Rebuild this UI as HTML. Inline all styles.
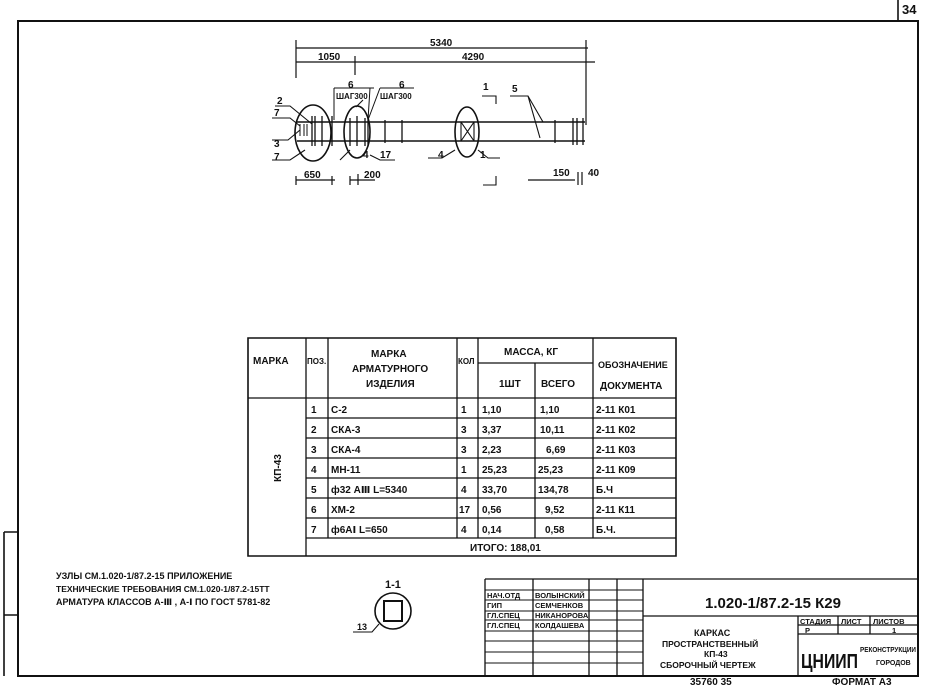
<!DOCTYPE html>
<html><head><meta charset="utf-8"><style>
body{margin:0;background:#fff}
svg{display:block}
text{font-family:"Liberation Sans","DejaVu Sans",sans-serif;font-weight:bold;fill:#111}
</style></head><body>
<svg width="927" height="685" viewBox="0 0 927 685" xmlns="http://www.w3.org/2000/svg">
<g stroke="#111" fill="none" stroke-width="1.6">
<path d="M18 21 H918 V676 H18 Z" stroke-width="2"/>
<path d="M898 0 V21"/>
<path d="M4 532 V676 M4 532 H18 M4 615 H18"/>
<path d="M296 48 H588 M296 62 H595 M296 40 V78 M586 40 V125 M355 56 V75" stroke-width="1.2"/>
<path d="M296 176 V185 M296 180 H335 M332 176 V185 M350 176 V185 M350 180 H375 M358 174 V185 M528 180 H575 M578 172 V185 M582 172 V185" stroke-width="1.2"/>
<path d="M297 122 H585 M297 141 H585"/>
<path d="M312 116 V146 M315 116 V146 M322 116 V146 M332 116 V146 M350 118 V146 M357 116 V146 M365 118 V146 M368 118 V146 M385 120 V143 M402 120 V143 M555 120 V143 M573 118 V145 M577 118 V145 M583 118 V145" stroke-width="1.3"/>
<path d="M300 124 V136 M304 124 V136 M307 124 V136" stroke-width="1"/>
<ellipse cx="313" cy="133" rx="18" ry="28"/>
<ellipse cx="357" cy="132" rx="13" ry="26"/>
<ellipse cx="467" cy="132" rx="12" ry="25"/>
<path d="M461 122 L474 141 M474 122 L461 141 M461 122 H474 V141 H461 Z" stroke-width="1.1"/>
<path d="M275 106 H290 L312 124 M272 118 H290 L300 126 M272 140 H288 L300 130 M272 160 H290 L305 150 M363 100 L356 107 M350 150 L340 160 M370 155 L380 160 H395 M455 150 L442 158 H428 M478 150 L488 158 H500 M510 96 H528 L543 122 M528 96 L540 138 M482 96 H496 V104 M496 176 V185 H483" stroke-width="1.1"/>
<path d="M334 88 V120 M370 88 L368 120 M334 88 H374 M380 88 H414 M380 88 L368 120" stroke-width="1"/>
<path d="M248 338 H676 V556 H248 Z"/>
<path d="M306 338 V556 M328 338 V538 M457 338 V538 M478 338 V538 M535 363 V538 M593 338 V538 M478 363 H593 M248 398 H676 M306 418 H676 M306 438 H676 M306 458 H676 M306 478 H676 M306 498 H676 M306 518 H676 M306 538 H676" stroke-width="1.3"/>
<circle cx="393" cy="611" r="18"/>
<rect x="384" y="601" width="18" height="20" stroke-width="2"/>
<path d="M353 632 H372 L379 624" stroke-width="1.1"/>
<path d="M485 579 H918 M485 579 V676 M533 579 V676 M589 579 V676 M617 579 V676 M643 579 V676" stroke-width="1.3"/>
<path d="M485 590 H643 M485 600 H643 M485 611 H643 M485 620 H643 M485 631 H643 M485 641 H643 M485 652 H643 M485 663 H643" stroke-width="1"/>
<path d="M643 616 H918 M798 616 V676 M838 616 V634 M870 616 V634 M798 625 H918 M798 634 H918" stroke-width="1.3"/>
</g>
<g font-size="10">
<text x="902" y="14" font-size="13" font-weight="normal">34</text>
<text x="430" y="46">5340</text>
<text x="318" y="60">1050</text>
<text x="462" y="60">4290</text>
<text x="348" y="88">6</text><text x="399" y="88">6</text>
<text x="336" y="99" font-size="8">ШАГ300</text><text x="380" y="99" font-size="8">ШАГ300</text>
<text x="277" y="104">2</text><text x="274" y="116">7</text><text x="274" y="147">3</text><text x="274" y="160">7</text>
<text x="363" y="158">4</text><text x="380" y="158">17</text>
<text x="438" y="158">4</text><text x="480" y="158">1</text>
<text x="483" y="90">1</text><text x="512" y="92">5</text>
<text x="304" y="178">650</text><text x="364" y="178">200</text>
<text x="553" y="176">150</text><text x="588" y="176">40</text>
</g>
<g font-size="10">
<text x="253" y="364">МАРКА</text>
<text x="307" y="364" font-size="8">ПОЗ.</text>
<text x="371" y="357">МАРКА</text>
<text x="352" y="372">АРМАТУРНОГО</text>
<text x="366" y="387">ИЗДЕЛИЯ</text>
<text x="458" y="364" font-size="8">КОЛ</text>
<text x="504" y="355">МАССА, КГ</text>
<text x="499" y="387">1ШТ</text>
<text x="541" y="387">ВСЕГО</text>
<text x="598" y="368" font-size="9">ОБОЗНАЧЕНИЕ</text>
<text x="600" y="389">ДОКУМЕНТА</text>
<text transform="translate(281 468) rotate(-90)" text-anchor="middle">КП-43</text>
<text x="311" y="413">1</text><text x="331" y="413">С-2</text><text x="461" y="413">1</text><text x="482" y="413">1,10</text><text x="540" y="413">1,10</text><text x="596" y="413">2-11  К01</text>
<text x="311" y="433">2</text><text x="331" y="433">СКА-3</text><text x="461" y="433">3</text><text x="482" y="433">3,37</text><text x="540" y="433">10,11</text><text x="596" y="433">2-11  К02</text>
<text x="311" y="453">3</text><text x="331" y="453">СКА-4</text><text x="461" y="453">3</text><text x="482" y="453">2,23</text><text x="546" y="453">6,69</text><text x="596" y="453">2-11  К03</text>
<text x="311" y="473">4</text><text x="331" y="473">МН-11</text><text x="461" y="473">1</text><text x="482" y="473">25,23</text><text x="538" y="473">25,23</text><text x="596" y="473">2-11  К09</text>
<text x="311" y="493">5</text><text x="331" y="493">ф32 АⅢ   L=5340</text><text x="461" y="493">4</text><text x="482" y="493">33,70</text><text x="538" y="493">134,78</text><text x="596" y="493">Б.Ч</text>
<text x="311" y="513">6</text><text x="331" y="513">ХМ-2</text><text x="459" y="513">17</text><text x="482" y="513">0,56</text><text x="545" y="513">9,52</text><text x="596" y="513">2-11  К11</text>
<text x="311" y="533">7</text><text x="331" y="533">ф6АⅠ    L=650</text><text x="461" y="533">4</text><text x="482" y="533">0,14</text><text x="545" y="533">0,58</text><text x="596" y="533">Б.Ч.</text>
<text x="470" y="551">ИТОГО: 188,01</text>
</g>
<g font-size="9">
<text x="56" y="579">УЗЛЫ СМ.1.020-1/87.2-15 ПРИЛОЖЕНИЕ</text>
<text x="56" y="592" font-size="8.5">ТЕХНИЧЕСКИЕ ТРЕБОВАНИЯ СМ.1.020-1/87.2-15ТТ</text>
<text x="56" y="605">АРМАТУРА КЛАССОВ А-Ⅲ , А-Ⅰ ПО ГОСТ 5781-82</text>
<text x="385" y="588" font-size="11" font-weight="normal">1-1</text>
<text x="357" y="630">13</text>
</g>
<g font-size="7.5">
<text x="487" y="598">НАЧ.ОТД</text><text x="535" y="598">ВОЛЫНСКИЙ</text>
<text x="487" y="608">ГИП</text><text x="535" y="608">СЕМЧЕНКОВ</text>
<text x="487" y="618">ГЛ.СПЕЦ</text><text x="535" y="618">НИКАНОРОВА</text>
<text x="487" y="628">ГЛ.СПЕЦ</text><text x="535" y="628">КОЛДАШЕВА</text>
<text x="705" y="608" font-size="15" font-weight="normal">1.020-1/87.2-15  К29</text>
<text x="800" y="624">СТАДИЯ</text><text x="841" y="624">ЛИСТ</text><text x="873" y="624">ЛИСТОВ</text>
<text x="805" y="633">Р</text><text x="892" y="633">1</text>
<text x="694" y="636" font-size="9">КАРКАС</text>
<text x="662" y="647" font-size="8.5">ПРОСТРАНСТВЕННЫЙ</text>
<text x="704" y="657" font-size="8.5">КП-43</text>
<text x="660" y="668" font-size="8.5">СБОРОЧНЫЙ ЧЕРТЕЖ</text>
<text x="801" y="668" font-size="20" font-weight="normal" textLength="57" lengthAdjust="spacingAndGlyphs">ЦНИИП</text>
<text x="860" y="652" font-size="7" textLength="56" lengthAdjust="spacingAndGlyphs">РЕКОНСТРУКЦИИ</text>
<text x="876" y="665" font-size="7">ГОРОДОВ</text>
<text x="690" y="685" font-size="10" font-weight="normal">35760     35</text>
<text x="832" y="685" font-size="10" font-weight="normal">ФОРМАТ А3</text>
</g>
</svg>
</body></html>
